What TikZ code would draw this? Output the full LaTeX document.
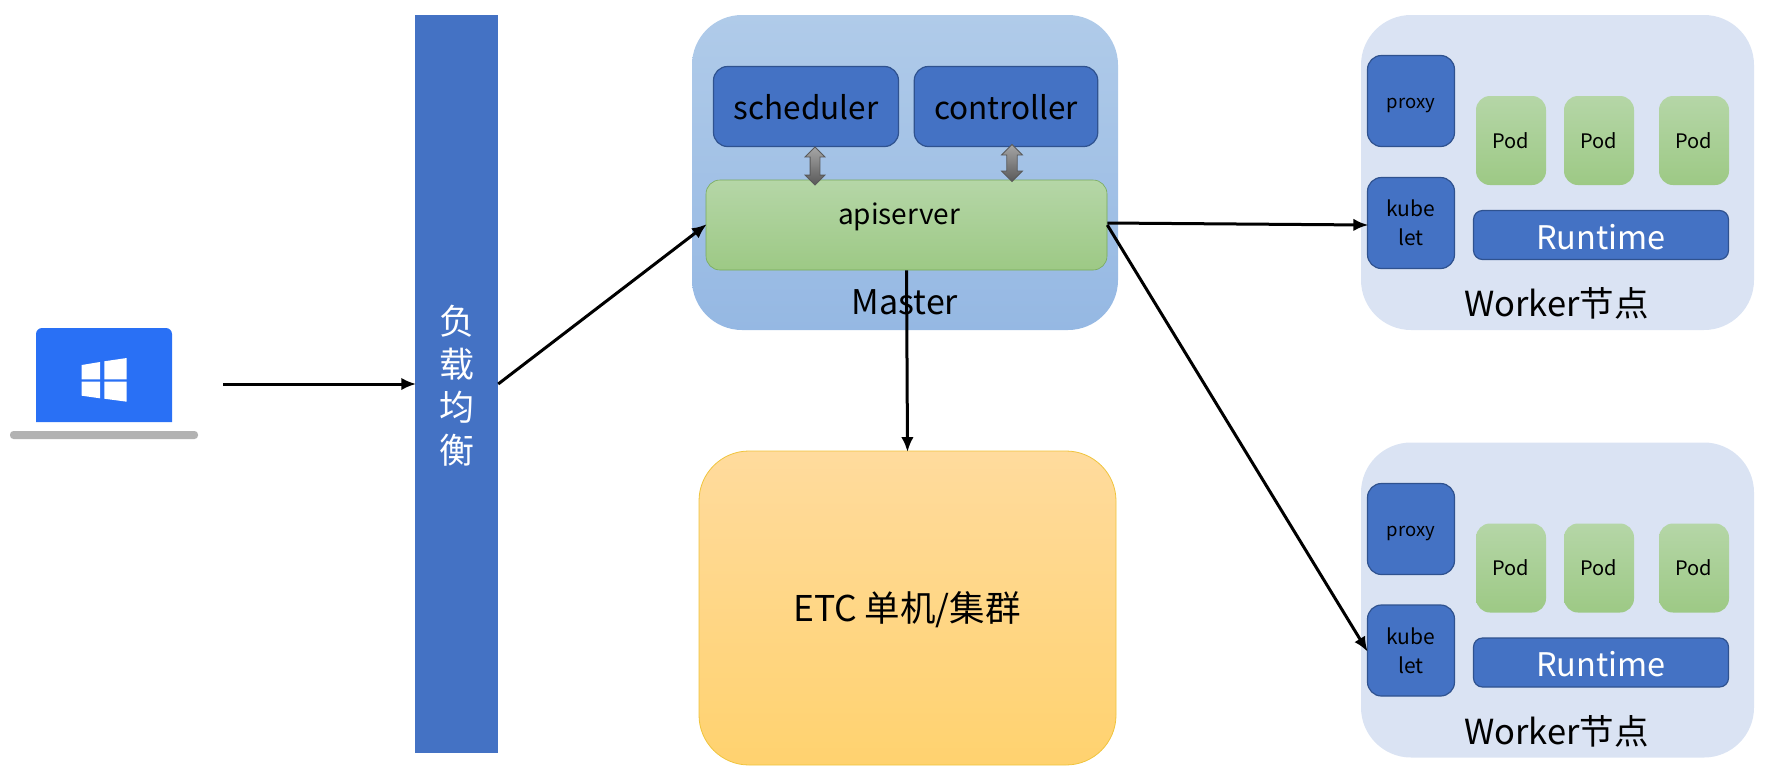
\documentclass[tikz,border=0pt]{standalone}
\usepackage{fontspec}
\setmainfont{Noto Sans CJK SC}
\usetikzlibrary{arrows.meta,shapes.arrows}
\definecolor{bluebox}{HTML}{4472C4}
\definecolor{blueline}{HTML}{2F528F}
\definecolor{workerfill}{HTML}{DAE3F3}
\definecolor{laptopblue}{HTML}{2970F5}
\tikzset{
	px/.style={font=\fontsize{#1}{#1}\selectfont},
	bluenode/.style={rectangle,rounded corners=14,draw=blueline,line width=1.2,fill=bluebox,inner sep=0},
	greenfill/.style={rectangle,rounded corners=14,draw=none,top color={rgb,255:red,181;green,214;blue,167},bottom color={rgb,255:red,157;green,201;blue,133},inner sep=0},
	workerbox/.style={rectangle,rounded corners=50,fill=workerfill,minimum width=393,minimum height=315,inner sep=0},
	podbox/.style={greenfill,minimum width=70,minimum height=89,px=20,text height=15,text depth=0},
	proxybox/.style={bluenode,minimum width=87,minimum height=91,px=18.5,text height=15,text depth=0},
	kubebox/.style={bluenode,minimum width=87,minimum height=91,font=\fontsize{21}{29}\selectfont,align=center},
	runtimebox/.style={bluenode,rounded corners=9,minimum width=255,minimum height=49,px=32.5,text=white,text height=28,text depth=0},
	blockarrow/.style={shape=double arrow,draw=black!65,line width=.8,inner sep=0,text width=9,top color=black!35,bottom color=black!65,minimum width=19,double arrow head extend=5,shape border rotate=90},
	link/.style={line width=3,shorten >=-1.5,-{Latex[length=15,width=12.5]}},
}
\begin{document}
\begin{tikzpicture}[x=1pt,y=-1pt]
	\useasboundingbox (0,0) rectangle (1777,782);

	\fill[laptopblue] (36,422) [rounded corners=6] -- (36,328) -- (172,328) [sharp corners] -- (172,422) -- cycle;
	\fill[black!30,rounded corners=3.5] (10,431) rectangle (198,439);
	\fill[white] (81.7,365) -- (100,362) -- (100,379.3) -- (81.7,379.3) -- cycle;
	\fill[white] (81.7,381.7) -- (100,381.7) -- (100,398.3) -- (81.7,395.7) -- cycle;
	\fill[white] (104.3,361.3) -- (126.7,358) -- (126.7,379.3) -- (104.3,379.3) -- cycle;
	\fill[white] (104.3,381.7) -- (126.7,381.7) -- (126.7,401.7) -- (104.3,398.7) -- cycle;
	\coordinate (laptop) at (223,384);

	\node[fill=bluebox,minimum width=83,minimum height=738,inner sep=0] (balancer) at (456.5,384) {};
	\node[text=white,align=center,font=\fontsize{35}{43}\selectfont] (balancertext) at (456.5,386) {负\\载\\均\\衡};

	\node[rectangle,rounded corners=50,top color={rgb,255:red,176;green,203;blue,233},bottom color={rgb,255:red,149;green,184;blue,227},minimum width=426,minimum height=315,inner sep=0] (master) at (905,172.5) {};
	\node[bluenode,minimum width=185,minimum height=80,px=31.5,text height=25,text depth=0] (scheduler) at (806,106.5) {scheduler};
	\node[bluenode,minimum width=183.5,minimum height=80,px=31.5,text height=25,text depth=0] (controller) at (1006,106.5) {controller};
	\node[greenfill,draw={rgb,255:red,120;green,170;blue,90},line width=.6,minimum width=401,minimum height=90] (apiserver) at (906.5,225) {};
	\node[px=28] (apitext) at (899,217) {apiserver};
	\node[px=34] (mastertext) at (905,302) {Master};

	\node[rectangle,rounded corners=50,draw={rgb,255:red,240;green,196;blue,60},line width=.8,top color={rgb,255:red,255;green,219;blue,157},bottom color={rgb,255:red,255;green,210;blue,111},minimum width=417,minimum height=314,inner sep=0] (etc) at (907.5,608) {};
	\node[px=35.5] (etctext) at (907,610) {ETC 单机/集群};

	\node[workerbox] (workera) at (1557.5,172.5) {};
	\node[proxybox] (proxya) at (1411,101) {proxy};
	\node[kubebox] (kubeleta) at (1411,223) {kube\\let};
	\node[podbox] (poda) at (1511,140.5) {Pod};
	\node[podbox] (podb) at (1599,140.5) {Pod};
	\node[podbox] (podc) at (1694,140.5) {Pod};
	\node[runtimebox] (runtimea) at (1601,235) {Runtime};
	\node[px=34.5] (workertexta) at (1556.5,303) {Worker节点};

	\node[workerbox] (workerb) at (1557.5,600) {};
	\node[proxybox] (proxyb) at (1411,529) {proxy};
	\node[kubebox] (kubeletb) at (1411,650.5) {kube\\let};
	\node[podbox] (podd) at (1511,568) {Pod};
	\node[podbox] (pode) at (1599,568) {Pod};
	\node[podbox] (podf) at (1694,568) {Pod};
	\node[runtimebox] (runtimeb) at (1601,662.5) {Runtime};
	\node[px=34.5] (workertextb) at (1556.5,731) {Worker节点};

	\node[blockarrow,minimum height=38] (schedarrow) at (815,166) {};
	\node[blockarrow,minimum width=21,minimum height=37] (ctrlarrow) at (1012,163) {};

	\draw[link] (laptop) -- (balancer.west);
	\draw[link] (balancer.east) -- (apiserver.west);
	\draw[link] (apiserver.south) -- (etc.north);
	\draw[link] ([yshift=2]apiserver.east) -- ([yshift=-2]kubeleta.west);
	\draw[link] (apiserver.east) -- (kubeletb.west);
\end{tikzpicture}
\end{document}
